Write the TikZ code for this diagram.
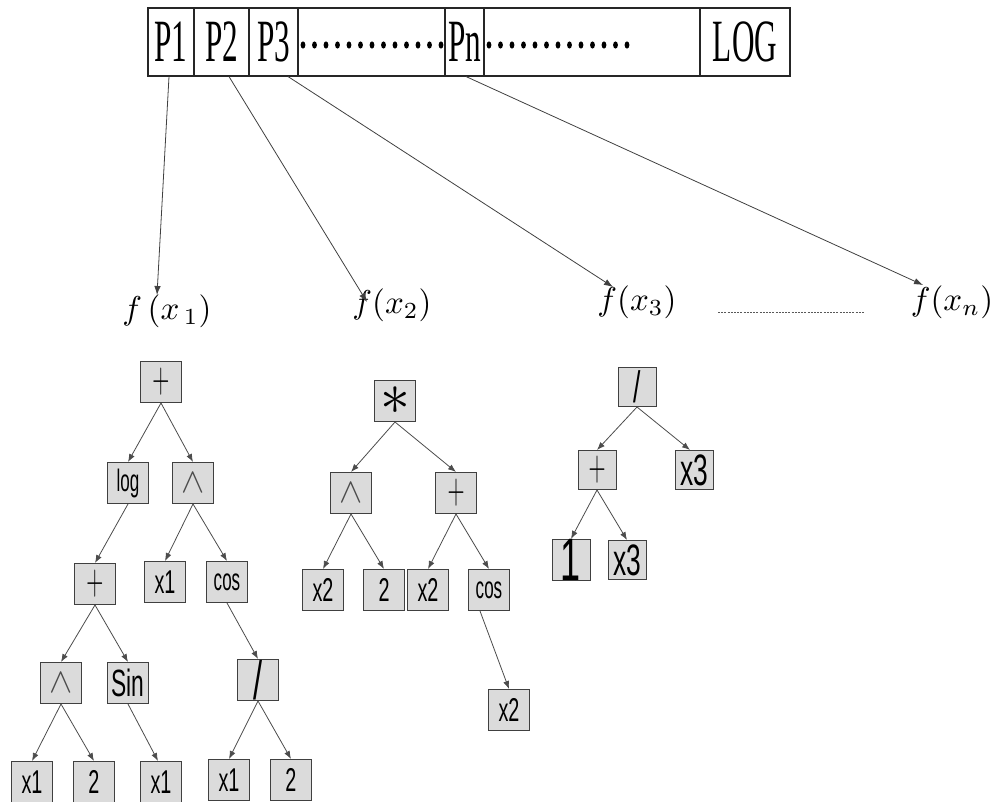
\documentclass[tikz,border=0pt]{standalone}
\usepackage{fontspec}
\usepackage{graphicx}
\usetikzlibrary{arrows.meta}
\newfontfamily\barfont[FakeStretch=0.52]{Liberation Serif}
\newfontfamily\boxfont[FakeStretch=0.6]{Liberation Sans}
\newfontfamily\boxfontn[FakeStretch=0.55]{Liberation Sans}
\newcommand{\fsz}[1]{\fontsize{#1}{#1}\selectfont}
\newcommand{\bigmath}[2]{\scalebox{#1}{$#2$}}
\newcommand{\tallplus}{{\fsz{24}\scalebox{0.95}[1.75]{$+$}}}
\begin{document}
\begin{tikzpicture}[x=1pt,y=-1pt,
  cell/.style={draw=black!85, line width=1.1pt, minimum height=68pt, inner sep=0pt, font=\barfont\fsz{60}},
  tbox/.style={draw=black!75, fill=black!14, line width=1pt, minimum width=41pt, minimum height=41pt, inner sep=0pt, font=\boxfont\fsz{33}},
  fnbox/.style={tbox, font=\boxfontn\fsz{31}},
  sbox/.style={tbox, minimum width=38pt, minimum height=39pt},
  edge/.style={draw=black!70, line width=0.8pt, -{Latex[length=8pt,width=6pt]}},
  parr/.style={draw=black!75, line width=0.8pt, -{Latex[length=9pt,width=6.5pt]}},
  flab/.style={inner sep=0pt}
]
\useasboundingbox (0,0) rectangle (995,802);

% top bar
\node[cell, minimum width=46pt]  (c1) at (171,42) {P1};
\node[cell, minimum width=55pt]  (c2) at (221.5,42) {P2};
\node[cell, minimum width=49pt]  (c3) at (273.5,42) {P3\hspace{6pt}};
\node[cell, minimum width=147pt] (c4) at (371.5,42) {};
\node[cell, minimum width=39pt]  (c5) at (464.5,42) {Pn};
\node[cell, minimum width=216pt] (c6) at (592,42) {};
\node[cell, minimum width=90pt]  (c7) at (745,42) {LOG\hspace{22pt}};
\foreach \i in {0,...,12} {
  \fill (303+11.5*\i,45) ellipse [x radius=2.4pt, y radius=3.6pt];
  \fill (489+11.5*\i,45) ellipse [x radius=2.4pt, y radius=3.6pt];
}

% function labels
\node[flab] (f1) at (167,311) {\bigmath{3.3}{f\,(x_{\,1})}};
\node[flab] (f2) at (392,305) {\bigmath{3.3}{f(x_2)}};
\node[flab] (f3) at (637,302) {\bigmath{3.3}{f(x_3)}};
\node[flab] (fn) at (952,302) {\bigmath{3.3}{f(x_n)}};
\coordinate (t1) at (157,295);
\coordinate (t2) at (367,302);
\coordinate (t3) at (613,287);
\coordinate (t4) at (923,285);
\draw[parr] ([xshift=-2pt]c1.south) -- (t1);
\draw[parr] ([xshift=7.5pt]c2.south) -- (t2);
\draw[parr] ([xshift=14.5pt]c3.south) -- (t3);
\draw[parr] ([xshift=1.5pt]c5.south) -- (t4);
\draw[dash pattern=on 2pt off 1.2pt, line width=0.9pt, black!65] (718,312) -- (865,312);

% tree 1
\node[tbox] (r1) at (161,382) {\tallplus};
\node[fnbox] (log1) at (128,483) {log};
\node[tbox, text=black!70] (w1) at (193,483) {\bigmath{1.4}{\wedge}};
\node[tbox] (p1) at (95,584) {\tallplus};
\node[tbox] (x1a) at (165,582) {x1};
\node[fnbox] (cos1) at (227,582) {cos};
\node[tbox, text=black!70] (w2) at (61,683) {\bigmath{1.4}{\wedge}};
\node[tbox, font=\boxfont\fsz{38}] (sin1) at (128,683) {Sin};
\node[tbox, font=\boxfont\fsz{54}] (d1) at (258,680) {/};
\node[tbox] (x1b) at (32,782) {x1};
\node[tbox] (two1) at (94,782) {2};
\node[tbox] (x1c) at (161,782) {x1};
\node[tbox] (x1d) at (229,780) {x1};
\node[tbox] (two2) at (291,780) {2};
\draw[edge] (r1.south) -- (log1.north);
\draw[edge] (r1.south) -- (w1.north);
\draw[edge] (log1.south) -- (p1.north);
\draw[edge] (w1.south) -- (x1a.north);
\draw[edge] (w1.south) -- (cos1.north);
\draw[edge] (p1.south) -- (w2.north);
\draw[edge] (p1.south) -- (sin1.north);
\draw[edge] (cos1.south) -- (d1.north);
\draw[edge] (w2.south) -- (x1b.north);
\draw[edge] (w2.south) -- (two1.north);
\draw[edge] (sin1.south) -- ([xshift=-3pt]x1c.north);
\draw[edge] (d1.south) -- (x1d.north);
\draw[edge] (d1.south) -- (two2.north);

% tree 2
\node[tbox] (r2) at (395,401) {\bigmath{2.4}{\ast}};
\node[tbox, text=black!70] (w3) at (351,493) {\bigmath{1.4}{\wedge}};
\node[tbox] (p2) at (456,493) {\tallplus};
\node[tbox] (x2a) at (323,590) {x2};
\node[tbox] (two3) at (384,590) {2};
\node[tbox] (x2b) at (428,590) {x2};
\node[fnbox] (cos2) at (489,590) {cos};
\node[tbox] (x2c) at (509,710) {x2};
\draw[edge] (r2.south) -- (w3.north);
\draw[edge] (r2.south) -- (p2.north);
\draw[edge] (w3.south) -- (x2a.north);
\draw[edge] (w3.south) -- (two3.north);
\draw[edge] (p2.south) -- (x2b.north);
\draw[edge] (p2.south) -- (cos2.north);
\draw[edge] ([xshift=-9pt]cos2.south) -- (x2c.north);

% tree 3
\node[sbox, font=\boxfont\fsz{44}] (r3) at (637,387) {/};
\node[sbox] (p3) at (597,470) {\tallplus};
\node[sbox, font=\boxfont\fsz{44}] (x3a) at (694,470) {x3};
\node[sbox, font=\boxfont\fsz{60}] (one) at (571,560) {1};
\node[sbox, font=\boxfont\fsz{44}] (x3b) at (627,560) {x3};
\draw[edge] (r3.south) -- (p3.north);
\draw[edge] (r3.south) -- ([xshift=-4pt]x3a.north);
\draw[edge] (p3.south) -- (one.north);
\draw[edge] (p3.south) -- (x3b.north);
\end{tikzpicture}
\end{document}
